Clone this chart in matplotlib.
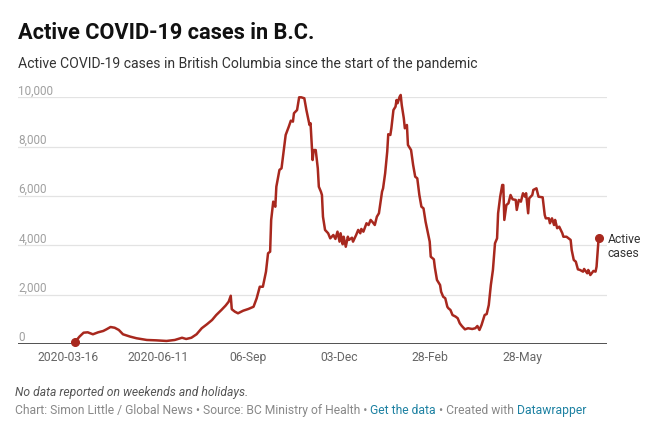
import matplotlib
matplotlib.use("Agg")
import matplotlib.pyplot as plt
import pandas as pd

plt.rcParams["font.family"] = ["Roboto", "DejaVu Sans"]

# active cases
dates = [
    "2020-03-23", "2020-03-27", "2020-03-31", "2020-04-04", "2020-04-09", "2020-04-14",
    "2020-04-19", "2020-04-22", "2020-04-26", "2020-04-30", "2020-05-04", "2020-05-08",
    "2020-05-15", "2020-05-21", "2020-05-31", "2020-06-09", "2020-06-19", "2020-06-27",
    "2020-07-04", "2020-07-08", "2020-07-13", "2020-07-18", "2020-07-23", "2020-07-28",
    "2020-08-02", "2020-08-06", "2020-08-11", "2020-08-15", "2020-08-18", "2020-08-20",
    "2020-08-21", "2020-08-24", "2020-08-27", "2020-09-01", "2020-09-06", "2020-09-11",
    "2020-09-14", "2020-09-17", "2020-09-20", "2020-09-23", "2020-09-25", "2020-09-27",
    "2020-09-28", "2020-09-30", "2020-10-02", "2020-10-03", "2020-10-06", "2020-10-08",
    "2020-10-10", "2020-10-12", "2020-10-15", "2020-10-17", "2020-10-19", "2020-10-20",
    "2020-10-23", "2020-10-25", "2020-10-27", "2020-10-30", "2020-11-01", "2020-11-04",
    "2020-11-05", "2020-11-07", "2020-11-08", "2020-11-10", "2020-11-12", "2020-11-13",
    "2020-11-15", "2020-11-16", "2020-11-17", "2020-11-19", "2020-11-22", "2020-11-24",
    "2020-11-27", "2020-11-29", "2020-12-01", "2020-12-03", "2020-12-04", "2020-12-06",
    "2020-12-07", "2020-12-09", "2020-12-11", "2020-12-12", "2020-12-15", "2020-12-16",
    "2020-12-19", "2020-12-21", "2020-12-23", "2020-12-24", "2020-12-26", "2020-12-29",
    "2020-12-31", "2021-01-02", "2021-01-04", "2021-01-06", "2021-01-08", "2021-01-10",
    "2021-01-13", "2021-01-14", "2021-01-16", "2021-01-18", "2021-01-19", "2021-01-21",
    "2021-01-22", "2021-01-24", "2021-01-26", "2021-01-27", "2021-01-28", "2021-01-30",
    "2021-01-31", "2021-02-01", "2021-02-03", "2021-02-04", "2021-02-06", "2021-02-07",
    "2021-02-10", "2021-02-12", "2021-02-14", "2021-02-16", "2021-02-18", "2021-02-20",
    "2021-02-22", "2021-02-24", "2021-02-26", "2021-02-28", "2021-03-01", "2021-03-04",
    "2021-03-05", "2021-03-07", "2021-03-10", "2021-03-11", "2021-03-13", "2021-03-15",
    "2021-03-17", "2021-03-18", "2021-03-20", "2021-03-22", "2021-03-25", "2021-03-27",
    "2021-03-29", "2021-03-31", "2021-04-03", "2021-04-06", "2021-04-10", "2021-04-13",
    "2021-04-15", "2021-04-17", "2021-04-19", "2021-04-22", "2021-04-24", "2021-04-26",
    "2021-04-28", "2021-04-30", "2021-05-02", "2021-05-04", "2021-05-05", "2021-05-07",
    "2021-05-09", "2021-05-10", "2021-05-11", "2021-05-13", "2021-05-15", "2021-05-17",
    "2021-05-19", "2021-05-22", "2021-05-23", "2021-05-25", "2021-05-27", "2021-05-29",
    "2021-05-31", "2021-06-01", "2021-06-03", "2021-06-04", "2021-06-07", "2021-06-08",
    "2021-06-11", "2021-06-13", "2021-06-17", "2021-06-19", "2021-06-20", "2021-06-23",
    "2021-06-24", "2021-06-26", "2021-06-28", "2021-06-29", "2021-07-01", "2021-07-03",
    "2021-07-06", "2021-07-07", "2021-07-10", "2021-07-12", "2021-07-14", "2021-07-15",
    "2021-07-17", "2021-07-19", "2021-07-21", "2021-07-23", "2021-07-26", "2021-07-27",
    "2021-07-30", "2021-07-31", "2021-08-02", "2021-08-05", "2021-08-07", "2021-08-08",
    "2021-08-10",
]
active = [
    105, 310, 470, 485, 405, 485,
    540, 605, 700, 670, 580, 405,
    310, 245, 175, 160, 135, 175,
    265, 215, 265, 405, 650, 810,
    985, 1185, 1390, 1565, 1725, 1965,
    1420, 1320, 1255, 1360, 1430, 1520,
    1860, 2330, 2330, 2940, 3685, 3750,
    5030, 5775, 5570, 6380, 7060, 7125,
    7800, 8475, 8810, 9055, 9015, 9355,
    9485, 10000, 10000, 9960, 9485, 8880,
    8950, 7460, 7865, 7865, 7125, 6380,
    6180, 6045, 5165, 4630, 4495, 4290,
    4425, 4265, 4560, 4155, 4495, 4050,
    4355, 3950, 4355, 4225, 4315, 4155,
    4425, 4630, 4495, 4670, 4560, 4900,
    4830, 5035, 4940, 4830, 5165, 5305,
    6180, 6315, 6925, 7800, 8505, 8475,
    8745, 9485, 9620, 9890, 9760, 10025,
    10095, 9690, 9150, 8745, 8880, 8070,
    7865, 7260, 6785, 6720, 6045, 5570,
    5505, 4965, 4560, 4155, 3545, 3440,
    3100, 2605, 2400, 2130, 1925, 1865,
    1520, 1460, 1390, 1185, 1120, 1055,
    850, 740, 605, 650, 620, 650,
    740, 580, 780, 1185, 1225, 1590,
    2400, 3010, 4090, 4290, 5305, 5975,
    6450, 6450, 5035, 5640, 5710, 6045,
    5870, 5845, 5440, 5845, 5775, 6115,
    5975, 6115, 5305, 5910, 6045, 6250,
    6315, 5975, 5950, 5235, 5100, 5100,
    4900, 5100, 4830, 5035, 4700, 4760,
    4495, 4355, 4355, 4290, 4225, 3820,
    3415, 3345, 3035, 3010, 2940, 3050,
    2875, 3010, 2805, 2970, 2940, 3140,
    4290,
]

tick_dates = ["2020-03-16", "2020-06-11", "2020-09-06", "2020-12-03", "2021-02-28", "2021-05-28"]
tick_labels = ["2020-03-16", "2020-06-11", "06-Sep", "03-Dec", "28-Feb", "28-May"]
y_ticks = [0, 2000, 4000, 6000, 8000, 10000]

x = pd.to_datetime(dates)
red = "#a8281e"

fig = plt.figure(figsize=(6.54, 4.26), dpi=100)
ax = fig.add_axes([0.028, 0.1918, 0.9, 0.5798])

# datawrapper-style grid: labels sit on top of each line
for yv in y_ticks:
    if yv > 0:
        ax.axhline(yv, color="#e3e3e3", lw=0.9, zorder=1)
    ax.text(0, yv, f"{yv:,}", transform=ax.get_yaxis_transform(), ha="left", va="bottom",
            fontsize=8.5, color="#a0a0a0")
ax.axhline(0, color="#222222", lw=1.1, zorder=2)

ax.plot(x, active, color=red, lw=1.8, zorder=3, clip_on=False, solid_joinstyle="round")
ax.plot([x[0], x[-1]], [active[0], active[-1]], "o", color=red, ms=5.5, zorder=4, clip_on=False)
ax.annotate("Active\ncases", xy=(x[-1], active[-1]), xytext=(6.3, -6), textcoords="offset points",
            ha="left", va="center", multialignment="left", fontsize=8.7, color="#333333",
            linespacing=1.05)

ax.set_xlim(pd.Timestamp("2020-01-28"), pd.Timestamp("2021-08-18"))
ax.set_ylim(0, 10000)
ax.set_xticks(pd.to_datetime(tick_dates))
ax.set_xticklabels(tick_labels)
ax.set_yticks([])
ax.tick_params(axis="x", length=0, pad=5, labelsize=8.7, labelcolor="#666666")
for s in ax.spines.values():
    s.set_visible(False)

fig.text(0.028, 0.9077, "Active COVID-19 cases in B.C.", fontsize=15.7, fontweight="bold",
         color="#111111", va="baseline")
fig.text(0.028, 0.8397, "Active COVID-19 cases in British Columbia since the start of the pandemic",
         fontsize=10.1, color="#333333", va="baseline")
fig.text(0.023, 1 - 396 / 426, "No data reported on weekends and holidays.", fontsize=8.7,
         style="italic", color="#555555", va="baseline")

# footer with coloured links, each piece placed after the previous one
parts = [("Chart: Simon Little / Global News \u2022 Source: BC Ministry of Health \u2022 ", "#888888"),
         ("Get the data", "#1d81a2"), (" \u2022 Created with ", "#888888"), ("Datawrapper", "#1d81a2")]
prev = fig.text(0.023, 1 - 414 / 426, parts[0][0], fontsize=8.7, color=parts[0][1], va="baseline")
for txt, col in parts[1:]:
    prev = fig.add_artist(plt.Annotation(txt, xy=(1, 0), xycoords=prev, ha="left", va="bottom",
                                         fontsize=8.7, color=col, annotation_clip=False))

fig.savefig("out.png", dpi=100, facecolor="white")
